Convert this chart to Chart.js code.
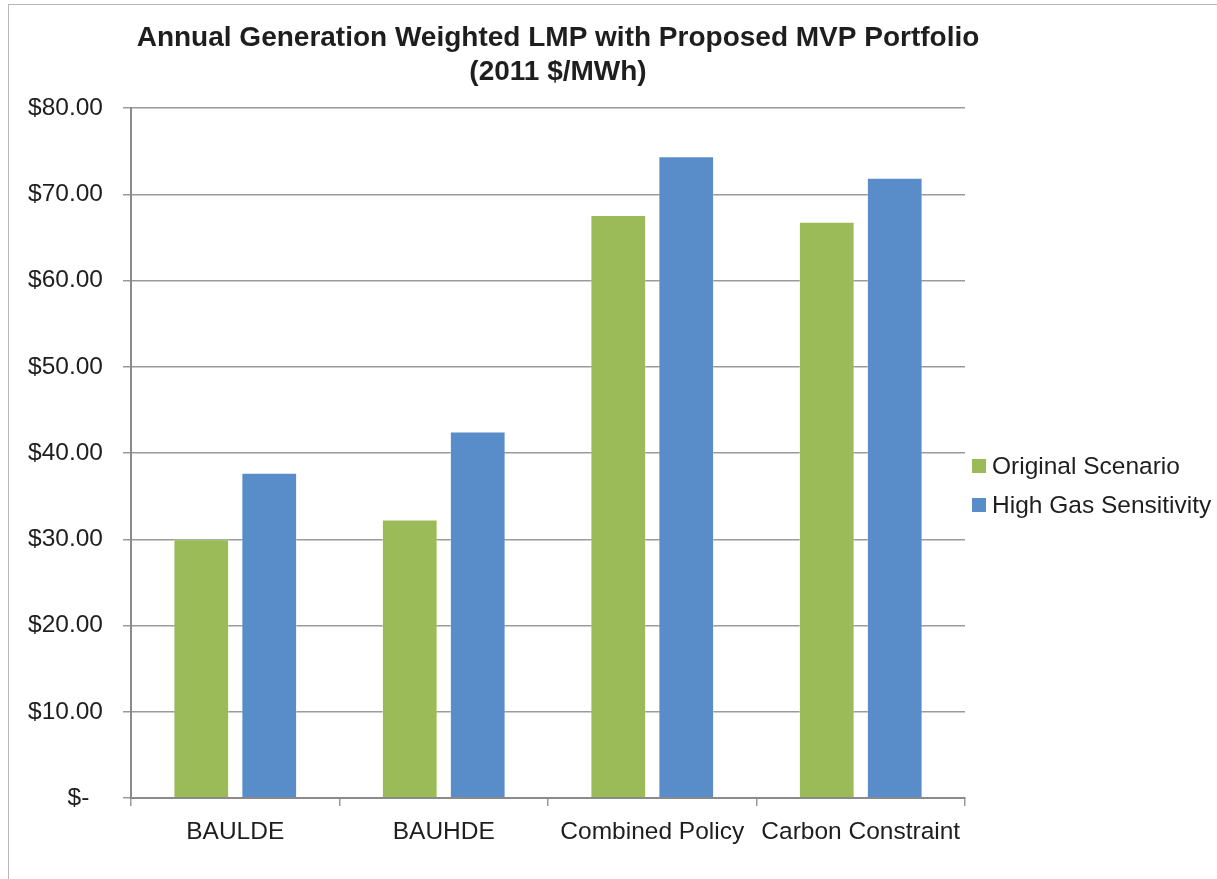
<!DOCTYPE html>
<html>
<head>
<meta charset="utf-8">
<script src="https://cdn.jsdelivr.net/npm/chart.js@4.4.1/dist/chart.umd.min.js"></script>
<style>
  html, body { margin: 0; padding: 0; background: #fff; overflow: hidden; }
  #wrap { position: relative; width: 1217px; height: 879px; }
  #frame { position: absolute; left: 8px; top: 4px; width: 1300px; height: 1000px;
           border: 1.5px solid #b8b8b8; pointer-events: none; }
</style>
</head>
<body>
<div id="wrap">
  <canvas id="chart" width="1217" height="879"></canvas>
  <div id="frame"></div>
</div>
<script>
// chart values
const categories = ['BAULDE', 'BAUHDE', 'Combined Policy', 'Carbon Constraint'];
const originalScenario = [30.0, 32.3, 67.6, 66.8];
const highGasSensitivity = [37.7, 42.5, 74.4, 71.9];
const seriesNames = ['Original Scenario', 'High Gas Sensitivity'];
const titleLines = ['Annual Generation Weighted LMP with Proposed MVP Portfolio', '(2011 $/MWh)'];

const textColor = '#1e1e1e';
const gridColor = '#9a9a9a';
const font = 'Liberation Sans, Arial, sans-serif';

// title and legend drawn on the canvas
const decorations = {
    id: 'decorations',
    afterDraw(chart) {
        const c = chart.ctx;
        c.save();
        c.fillStyle = textColor;
        c.textAlign = 'center';
        c.textBaseline = 'alphabetic';
        c.font = 'bold 28px ' + font;
        c.fillText(titleLines[0], 558, 46);
        c.fillText(titleLines[1], 558, 80);

        c.textAlign = 'left';
        c.textBaseline = 'middle';
        c.font = '24.5px ' + font;
        chart.data.datasets.forEach((ds, i) => {
            const y = 466 + i * 39;
            c.fillStyle = ds.backgroundColor;
            c.fillRect(972, y - 7, 14, 14);
            c.fillStyle = textColor;
            c.fillText(ds.label, 992, y + 1);
        });
        c.restore();
    }
};

new Chart(document.getElementById('chart'), {
    type: 'bar',
    data: {
        labels: categories,
        datasets: [{
            label: seriesNames[0],
            data: originalScenario,
            backgroundColor: '#9bbb59',
            borderColor: 'rgba(255,255,255,0.35)',
            borderWidth: 1
        }, {
            label: seriesNames[1],
            data: highGasSensitivity,
            backgroundColor: '#598dca',
            borderColor: 'rgba(255,255,255,0.35)',
            borderWidth: 1
        }]
    },
    options: {
        responsive: false,
        animation: false,
        categoryPercentage: 0.652,
        barPercentage: 0.82,
        layout: { padding: { top: 108, right: 252, left: 0, bottom: 0 } },
        plugins: {
            legend: { display: false },
            title: { display: false },
            tooltip: { enabled: false }
        },
        scales: {
            x: {
                afterFit: s => { s.height = 81; },
                grid: { offset: true, drawOnChartArea: false, drawTicks: true, tickLength: 8, color: gridColor, lineWidth: 1.5 },
                border: { color: '#8a8a8a', width: 2 },
                ticks: { color: textColor, padding: 12, font: { family: font, size: 24.5 } }
            },
            y: {
                min: 0,
                max: 80,
                afterFit: s => { s.width = 131; },
                grid: { tickLength: 8, color: gridColor, lineWidth: 1.5 },
                border: { color: '#8a8a8a', width: 2 },
                ticks: {
                    stepSize: 10,
                    padding: 20,
                    color: textColor,
                    font: { family: font, size: 24.5 },
                    callback: v => v === 0 ? '$-  ' : '$' + v.toFixed(2)
                }
            }
        }
    },
    plugins: [decorations]
});
</script>
</body>
</html>
